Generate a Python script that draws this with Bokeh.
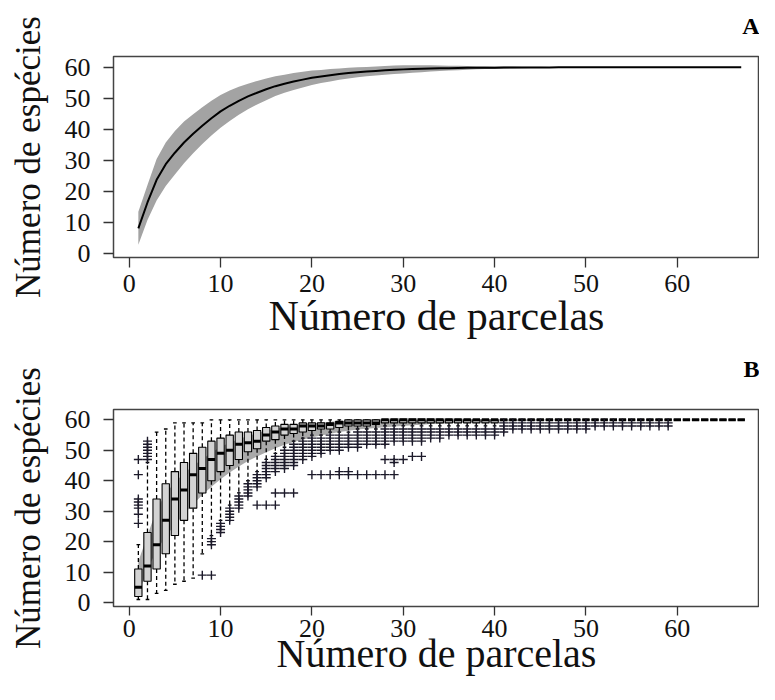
from bokeh.plotting import figure
from bokeh.layouts import column
from bokeh.models import Range1d, FixedTicker, Title
from bokeh.embed import file_html
from bokeh.resources import INLINE

# ---------------- data ----------------
parcelas = list(range(1, 68))

# Panel A: mean accumulation and its standard deviation
media = [8.2, 16.5, 23.8, 28.8, 32.5, 35.8, 38.6, 41.2, 43.6, 45.8,
         47.6, 49.2, 50.6, 51.8, 52.9, 53.9, 54.7, 55.4, 56.0, 56.6,
         57.0, 57.4, 57.8, 58.1, 58.4, 58.6, 58.8, 59.0, 59.2, 59.3,
         59.4, 59.5, 59.6, 59.65, 59.7, 59.75, 59.8, 59.82, 59.84, 59.86,
         59.88, 59.9, 59.9, 59.92, 59.93, 59.94, 59.95, 59.96, 59.97, 59.98,
         60.0, 60.0, 60.0, 60.0, 60.0, 60.0, 60.0, 60.0, 60.0, 60.0,
         60.0, 60.0, 60.0, 60.0, 60.0, 60.0, 60.0]
desvio = [5.3, 5.6, 6.7, 7.0, 7.0, 6.7, 6.3, 5.9, 5.6, 5.3,
          4.9, 4.5, 4.1, 3.8, 3.5, 3.2, 2.9, 2.7, 2.5, 2.3,
          2.1, 2.0, 1.8, 1.7, 1.6, 1.5, 1.45, 1.4, 1.35, 1.3,
          1.2, 1.1, 1.0, 0.9, 0.8, 0.7, 0.6, 0.5, 0.45, 0.4,
          0.35, 0.3, 0.25, 0.2, 0.18, 0.15, 0.12, 0.1, 0.08, 0.05,
          0, 0, 0, 0, 0, 0, 0, 0, 0, 0, 0, 0, 0, 0, 0, 0, 0]

# Panel B: boxplot statistics per number of plots
q1 = [2, 7, 11, 16, 22, 27, 31, 36, 40, 43,
      45, 47, 49.5, 50.5, 53, 53.5, 55, 55.5, 56, 56.5,
      57, 57, 57.5, 58, 58, 58, 58.5, 59, 59, 59,
      59, 59, 59, 59, 59, 59, 59, 59, 59, 59] + [60] * 27
mediana = [5, 12, 19, 27, 34, 37, 42, 44, 47, 49,
           50, 52, 52.5, 53, 55, 56, 57, 57, 58, 58,
           58, 58.5, 59, 59, 59, 59, 59, 60, 60, 60] + [60] * 37
q3 = [11, 23, 34, 39, 43, 46, 49, 51, 53, 54,
      55, 56, 56, 56.5, 57.5, 58, 58.5, 58.5, 59, 59,
      59, 59, 59.5] + [60] * 44
bigode_inf = [1, 1, 3, 4, 6, 7, 8, 16, 22, 27,
              32, 36, 40, 43, 47, 49, 51, 53, 54, 55,
              55, 56, 56, 56, 57, 57, 57, 58, 58, 58,
              58, 58, 58, 58, 58, 58, 58, 58, 58, 58] + [60] * 27
bigode_sup = [19, 46, 56, 57, 59, 59, 59, 59] + [60] * 59

# lowest value of the dense stack of low outliers (stack runs up to the whisker)
outlier_min = [None, None, None, None, None, None, None, None, 19, 23,
               27, 31, 35, 38, 41, 43, 44, 45, 47, 48,
               49, 50, 50, 51, 51, 52, 52, 52, 53, 53,
               53, 53, 54, 54, 55, 55, 55, 55, 55, 55,
               56, 57, 57, 57, 57, 57, 57, 57, 57, 57,
               58, 58, 58, 58, 58, 58, 58, 58, 58,
               None, None, None, None, None, None, None, None]
# isolated outliers (parcelas, especies)
outliers_extra_x = [1, 1, 1, 1, 1, 1, 1, 1,
                    2, 2, 2, 2, 2, 2, 2,
                    8, 9, 14, 15, 16, 16, 17, 18,
                    20, 21, 22, 23, 23, 24, 24, 25, 26, 27, 28, 28,
                    29, 29, 29, 30, 31, 32]
outliers_extra_y = [26, 29, 31, 32, 33, 34, 42, 47,
                    47, 48, 49, 50, 51, 52, 53,
                    9, 9, 32, 32, 32, 36, 36, 36,
                    42, 42, 42, 42, 43, 42, 43, 42, 42, 42, 42, 47,
                    42, 46, 47, 47, 48, 48]

x_ticks = [0, 10, 20, 30, 40, 50, 60]
y_ticks = [0, 10, 20, 30, 40, 50, 60]

# ---------------- styling helpers ----------------
FONT = "Liberation Serif"
band_lo = [m - s for m, s in zip(media, desvio)]
band_hi = [m + s for m, s in zip(media, desvio)]


def style(p):
    p.xgrid.grid_line_color = None
    p.ygrid.grid_line_color = None
    p.outline_line_color = "#444444"
    p.outline_line_width = 1.5
    for ax in (p.xaxis[0], p.yaxis[0]):
        ax.axis_line_color = None
        ax.major_tick_line_color = "#333333"
        ax.major_tick_line_width = 1.3
        ax.major_tick_in = 0
        ax.major_tick_out = 10
        ax.minor_tick_line_color = None
        ax.major_label_text_font = FONT
        ax.major_label_text_font_size = "26px"
        ax.major_label_text_color = "#111111"
        ax.axis_label_text_font = FONT
        ax.axis_label_text_font_style = "normal"
        ax.axis_label_text_color = "#111111"
    p.xaxis.ticker = FixedTicker(ticks=x_ticks)
    p.yaxis.ticker = FixedTicker(ticks=y_ticks)
    p.xaxis.axis_label = "Número de parcelas"
    p.yaxis.axis_label = "Número de espécies"
    p.yaxis.axis_label_text_font_size = "35px"
    p.yaxis.major_label_standoff = 13
    p.yaxis.axis_label_standoff = 14


def make_fig(height, top, bottom, letter, y_range, spacer):
    p = figure(width=759, height=height, output_backend="svg", toolbar_location=None,
               x_range=Range1d(-1.72, 69.0), y_range=y_range,
               min_border_left=113, min_border_right=0,
               min_border_top=top, min_border_bottom=bottom,
               background_fill_color="white", border_fill_color="white")
    p.title = Title(text=letter, align="right", text_font=FONT, text_font_style="bold",
                    text_font_size="24px", text_color="black")
    # empty title used as a spacer between the panel letter and the frame
    p.add_layout(Title(text=" ", text_font_size=spacer), "above")
    style(p)
    return p


# ---------------- panel A ----------------
pA = make_fig(348, 56, 91, "A", Range1d(-1.19, 63.44), "1px")
pA.xaxis.axis_label_text_font_size = "42px"
pA.xaxis.major_label_standoff = 7
pA.xaxis.axis_label_standoff = -2
pA.varea(x=parcelas, y1=band_lo, y2=band_hi, fill_color="#a3a3a3")
pA.line(parcelas, media, line_color="black", line_width=2)

# ---------------- panel B ----------------
pB = make_fig(336, 61, 78, "B", Range1d(-1.3, 63.4), "10px")
pB.xaxis.axis_label_text_font_size = "40px"
pB.xaxis.major_tick_out = 9
pB.xaxis.major_label_standoff = 4
pB.xaxis.axis_label_standoff = -9
pB.varea(x=parcelas, y1=band_lo, y2=band_hi, fill_color="#a9a9a9")

xl = [x - 0.4 for x in parcelas]
xr = [x + 0.4 for x in parcelas]
cl = [x - 0.2 for x in parcelas]
cr = [x + 0.2 for x in parcelas]

# whiskers
pB.segment(x0=parcelas, y0=q3, x1=parcelas, y1=bigode_sup, line_color="black",
           line_width=1.3, line_dash="4 3")
pB.segment(x0=parcelas, y0=q1, x1=parcelas, y1=bigode_inf, line_color="black",
           line_width=1.3, line_dash="4 3")
# staples
pB.segment(x0=cl, y0=bigode_sup, x1=cr, y1=bigode_sup, line_color="black", line_width=1.3)
pB.segment(x0=cl, y0=bigode_inf, x1=cr, y1=bigode_inf, line_color="black", line_width=1.3)
# boxes
pB.vbar(x=parcelas, width=0.8, bottom=q1, top=q3, fill_color="#d3d3d3",
        line_color="black", line_width=1.1)
# medians
pB.segment(x0=xl, y0=mediana, x1=xr, y1=mediana, line_color="black", line_width=3)

# outliers
ox, oy = [], []
for x, omin, lw in zip(parcelas, outlier_min, bigode_inf):
    if omin is None:
        continue
    for v in range(omin, int(lw)):
        ox.append(x)
        oy.append(v)
ox += outliers_extra_x
oy += outliers_extra_y
pB.scatter(ox, oy, marker="cross", size=9, line_color="#1c1a2a", line_width=1.4)

layout = column(pA, pB)
open("out.html", "w").write(file_html(layout, INLINE))
